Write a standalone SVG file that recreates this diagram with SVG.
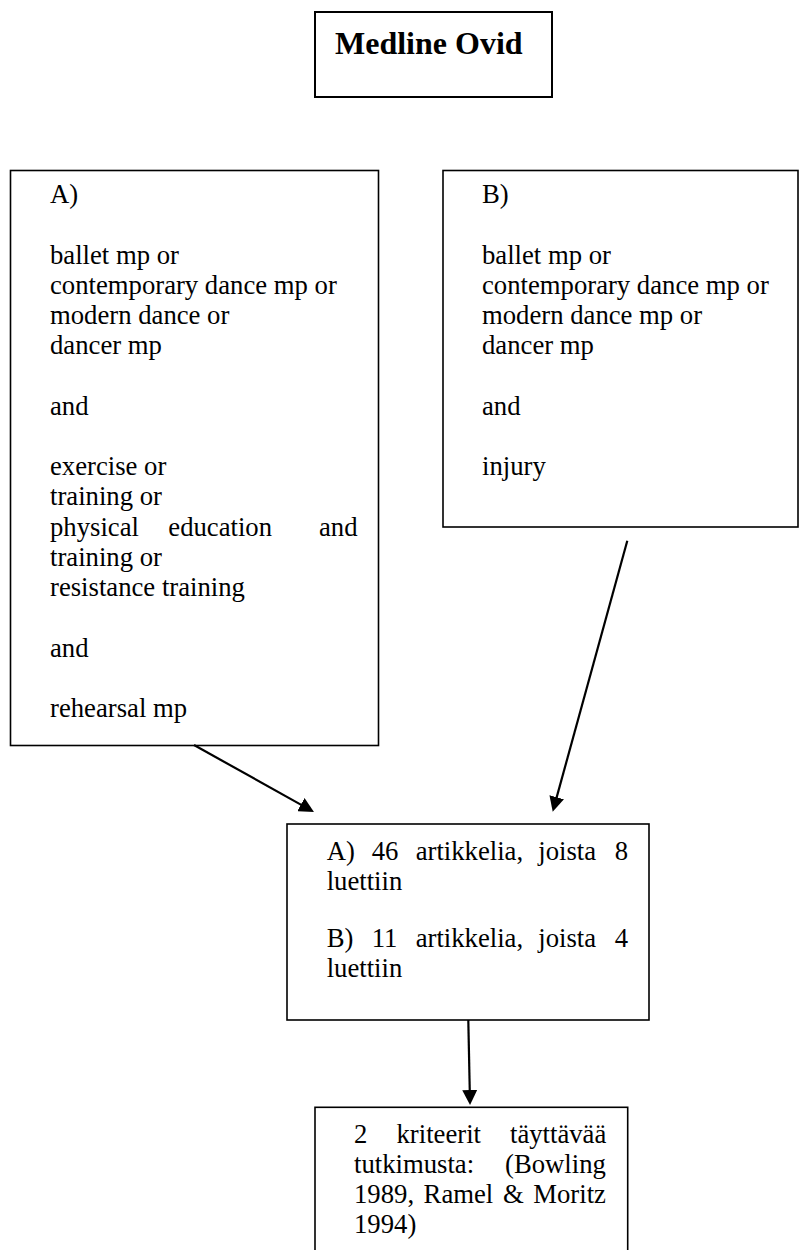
<svg xmlns="http://www.w3.org/2000/svg" width="800" height="1250" viewBox="0 0 800 1250">
<style>
.box{fill:#fff;stroke:#000;stroke-width:1.6}
.t{font-family:"Liberation Serif","Times New Roman",serif;font-size:26.7px;fill:#000}
.title{font-family:"Liberation Serif","Times New Roman",serif;font-size:32px;font-weight:bold;fill:#000}
.conn{stroke:#000;stroke-width:2.2;fill:none;marker-end:url(#ah)}
</style>
<defs>
<marker id="ah" markerUnits="userSpaceOnUse" markerWidth="15" markerHeight="15" viewBox="0 0 15 15" refX="3" refY="7.5" orient="auto">
<path d="M0,0 L15,7.5 L0,15 z" fill="#000"/>
</marker>
</defs>
<rect width="800" height="1250" fill="#fff"/>
<g id="node-medline">
<rect class="box" x="315" y="12" width="237" height="85" style="stroke-width:2"/>
<text class="title" x="335" y="54">Medline Ovid</text>
</g>
<g id="node-a">
<rect class="box" x="10.5" y="170.5" width="368" height="575"/>
<text class="t">
<tspan x="50" y="203">A)</tspan>
<tspan x="50" y="263.5">ballet mp or</tspan>
<tspan x="50" y="293.7">contemporary dance mp or</tspan>
<tspan x="50" y="324">modern dance or</tspan>
<tspan x="50" y="354.2">dancer mp</tspan>
<tspan x="50" y="414.7">and</tspan>
<tspan x="50" y="475.2">exercise or</tspan>
<tspan x="50" y="505.4">training or</tspan>
<tspan x="50" y="535.6">physical</tspan><tspan x="168.3" y="535.6">education</tspan><tspan x="319" y="535.6">and</tspan>
<tspan x="50" y="565.9">training or</tspan>
<tspan x="50" y="596.1">resistance training</tspan>
<tspan x="50" y="656.6">and</tspan>
<tspan x="50" y="717">rehearsal mp</tspan>
</text>
</g>
<g id="node-b">
<rect class="box" x="443" y="170.5" width="355" height="356.5"/>
<text class="t">
<tspan x="482" y="203">B)</tspan>
<tspan x="482" y="263.5">ballet mp or</tspan>
<tspan x="482" y="293.7">contemporary dance mp or</tspan>
<tspan x="482" y="324">modern dance mp or</tspan>
<tspan x="482" y="354.2">dancer mp</tspan>
<tspan x="482" y="414.7">and</tspan>
<tspan x="482" y="475.2">injury</tspan>
</text>
</g>
<g id="node-result">
<rect class="box" x="287" y="824" width="362" height="196"/>
<text class="t">
<tspan x="326.7" y="860">A)</tspan><tspan x="371.7" y="860">46</tspan><tspan x="415.7" y="860">artikkelia,</tspan><tspan x="538.3" y="860">joista</tspan><tspan x="614.7" y="860">8</tspan>
<tspan x="326.7" y="890">luettiin</tspan>
<tspan x="326.7" y="946.7">B)</tspan><tspan x="371.7" y="946.7">11</tspan><tspan x="415.7" y="946.7">artikkelia,</tspan><tspan x="538.3" y="946.7">joista</tspan><tspan x="614.7" y="946.7">4</tspan>
<tspan x="326.7" y="976.7">luettiin</tspan>
</text>
</g>
<g id="node-final">
<rect class="box" x="315" y="1107.3" width="312.7" height="160"/>
<text class="t">
<tspan x="354" y="1143.3">2</tspan><tspan x="396.5" y="1143.3">kriteerit</tspan><tspan x="510" y="1143.3">täyttävää</tspan>
<tspan x="354" y="1173.3">tutkimusta:</tspan><tspan x="505" y="1173.3">(Bowling</tspan>
<tspan x="354" y="1203.3">1989,</tspan><tspan x="423.6" y="1203.3">Ramel</tspan><tspan x="502.9" y="1203.3">&amp;</tspan><tspan x="533.3" y="1203.3">Moritz</tspan>
<tspan x="354" y="1233.3">1994)</tspan>
</text>
</g>
<g id="connectors">
<line class="conn" x1="194" y1="745" x2="303.5" y2="806.1"/>
<line class="conn" x1="627.3" y1="540.7" x2="555.9" y2="800.1"/>
<line class="conn" x1="468.3" y1="1020" x2="469.8" y2="1093"/>
</g>
</svg>
